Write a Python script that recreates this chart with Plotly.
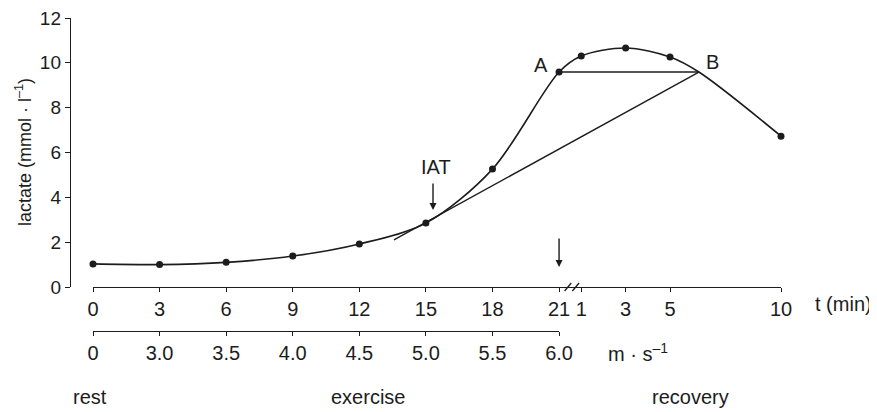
import plotly.graph_objects as go

# ---- data ----
exercise_t = [0, 3, 6, 9, 12, 15, 18, 21]
exercise_lactate = [1.03, 1.0, 1.1, 1.38, 1.92, 2.85, 5.26, 9.59]
recovery_t = [1, 3, 5, 10]
recovery_lactate = [10.3, 10.66, 10.26, 6.73]
point_B_recovery_t = 6.3
point_B_lactate = 9.59
iat_line_start = (13.56, 2.10)
time_tickvals_ex = [0, 3, 6, 9, 12, 15, 18, 21]
recovery_ticks = [1, 3, 5, 10]
speed_labels = ["0", "3.0", "3.5", "4.0", "4.5", "5.0", "5.5", "6.0"]
y_ticks = [0, 2, 4, 6, 8, 10, 12]

EX_END = 21  # recovery time axis starts where exercise ends

rec_x = [EX_END + r for r in recovery_t]
B_x = EX_END + point_B_recovery_t

# ---- geometry helpers (window pixel -> paper); page body has an 8px margin ----
OFF = 8
W, H = 877 - OFF, 412 - OFF
PL, PR, PT, PB = 70, 790, 18, 400      # paper area in window pixels
ML, MR, MT, MB = PL - OFF, 877 - PR, PT - OFF, 412 - PB
PW = PR - PL
PH = PB - PT
def px(x):
    return (x - PL) / PW
def py(y):
    return (PB - y) / PH

x_left_px, x_right_px = 93, 781
x_range = [0, 31]
x21_px = x_left_px + (x_right_px - x_left_px) * EX_END / x_range[1]

FONT = "Liberation Sans, Arial, Helvetica, sans-serif"
INK = "#1c1c1c"
FS = 20

fig = go.Figure()

# smooth lactate curve (through B, markers only on measured points)
curve_x = exercise_t + rec_x[:3] + [B_x] + rec_x[3:]
curve_y = exercise_lactate + recovery_lactate[:3] + [point_B_lactate] + recovery_lactate[3:]
fig.add_trace(go.Scatter(x=curve_x, y=curve_y, mode="lines",
                         line=dict(color=INK, width=1.6, shape="spline", smoothing=0.9),
                         cliponaxis=False, hoverinfo="skip"))
fig.add_trace(go.Scatter(x=exercise_t + rec_x, y=exercise_lactate + recovery_lactate,
                         mode="markers", marker=dict(color=INK, size=7),
                         cliponaxis=False))
# tangent line (IAT) to B
fig.add_trace(go.Scatter(x=[iat_line_start[0], B_x], y=[iat_line_start[1], point_B_lactate],
                         mode="lines", line=dict(color=INK, width=1.4), cliponaxis=False))
# horizontal A-B line
fig.add_trace(go.Scatter(x=[EX_END, B_x], y=[exercise_lactate[-1], point_B_lactate],
                         mode="lines", line=dict(color=INK, width=1.4), cliponaxis=False))

fig.update_layout(
    width=W, height=H,
    margin=dict(l=ML, r=MR, t=MT, b=MB, autoexpand=False),
    paper_bgcolor="white", plot_bgcolor="rgba(0,0,0,0)",
    showlegend=False,
    font=dict(family=FONT, size=FS, color=INK),
    xaxis=dict(domain=[px(x_left_px), px(x_right_px)], range=x_range, anchor="y",
               automargin=False, ticklabeloverflow="allow",
               showline=True, linecolor=INK, linewidth=1.4, ticks="outside", ticklen=4,
               tickcolor=INK, tickwidth=1.4,
               tickvals=time_tickvals_ex + rec_x,
               ticktext=[str(t) for t in time_tickvals_ex] + [str(r) for r in recovery_ticks],
               showgrid=False, zeroline=False, tickfont=dict(size=FS)),
    xaxis2=dict(domain=[px(x_left_px), px(x21_px)], range=[0, EX_END], anchor="free",
                position=py(331), automargin=False, ticklabeloverflow="allow",
                showline=True, linecolor=INK, linewidth=1.4, ticks="outside", ticklen=4,
                tickcolor=INK, tickwidth=1.4, side="bottom",
                tickvals=time_tickvals_ex, ticktext=speed_labels,
                showgrid=False, zeroline=False, tickfont=dict(size=FS)),
    yaxis=dict(domain=[py(287), 1], range=[0, 12], anchor="free", position=0,
               automargin=False, ticklabeloverflow="allow",
               showline=True, linecolor=INK, linewidth=1.4, ticks="outside", ticklen=5,
               tickcolor=INK, tickwidth=1.4, tickvals=y_ticks,
               showgrid=False, zeroline=False, tickfont=dict(size=19)),
)

# invisible trace to activate xaxis2
fig.add_trace(go.Scatter(x=[0], y=[0], xaxis="x2", mode="markers",
                         marker=dict(opacity=0), hoverinfo="skip"))

ann = []
def text(xp, yp, s, size=FS, angle=0):
    ann.append(dict(x=px(xp), y=py(yp), xref="paper", yref="paper", text=s,
                    showarrow=False, font=dict(size=size, color=INK), textangle=angle,
                    xanchor="center", yanchor="middle"))

text(23, 152, "lactate (mmol · l<sup>–1</sup>)", size=18, angle=-90)
text(843, 304, "t (min)")
text(638, 352, "m · s<sup>–1</sup>")
text(90, 397, "rest")
text(368, 397, "exercise")
text(690, 397, "recovery")
text(541, 65, "A")
text(712, 62, "B")
text(436, 167, "IAT")

# arrows
ann.append(dict(x=15.32, y=3.43, xref="x", yref="y", ax=0, ay=-28, text="",
                showarrow=True, arrowhead=2, arrowsize=1, arrowwidth=1.4, arrowcolor=INK))
ann.append(dict(x=EX_END, y=0.89, xref="x", yref="y", ax=0, ay=-30, text="",
                showarrow=True, arrowhead=2, arrowsize=1, arrowwidth=1.4, arrowcolor=INK))
fig.update_layout(annotations=ann)

# axis break marks
for x0 in (21.25, 21.6):
    fig.add_shape(type="line", xref="x", yref="paper",
                  x0=x0, x1=x0 + 0.3, y0=py(291), y1=py(283),
                  line=dict(color=INK, width=1.3))

fig.write_html("out.html")
